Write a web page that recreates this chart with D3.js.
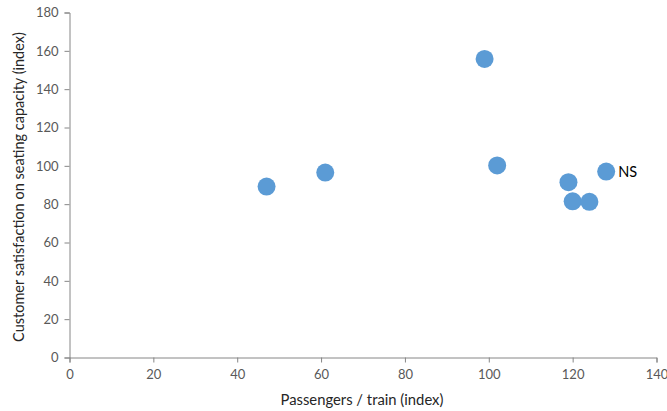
<!DOCTYPE html>
<html><head><meta charset="utf-8">
<script src="https://cdn.jsdelivr.net/npm/d3@7"></script>
<style>body{margin:0;background:#fff}svg{display:block}</style>
</head><body>
<svg id="c" width="667" height="411"></svg>
<script>
const xValues = [47, 61, 99, 102, 119, 120, 124, 128];
const yValues = [89.2, 96.5, 155.8, 100.2, 91.5, 81.5, 81.2, 97.0];
const pointLabels = ["", "", "", "", "", "", "", "NS"];
const xTicks = [0, 20, 40, 60, 80, 100, 120, 140];
const yTicks = [0, 20, 40, 60, 80, 100, 120, 140, 160, 180];
const xTitle = "Passengers / train (index)";
const yTitle = "Customer satisfaction on seating capacity (index)";

(function () {
const svg = d3.select("#c");
const font = "Lato, 'Open Sans', sans-serif";
const pLeft = 69.5, pRight = 656.5, pTop = 12.5, pBottom = 357.5;
const x = d3.scaleLinear().domain([0, 140]).range([pLeft, pRight]);
const y = d3.scaleLinear().domain([0, 180]).range([pBottom, pTop]);

const xa = svg.append("g").attr("transform", `translate(0,${pBottom})`)
  .call(d3.axisBottom(x).tickValues(xTicks).tickSizeOuter(0).tickSize(5).tickPadding(7));
const ya = svg.append("g").attr("transform", `translate(${pLeft},0)`)
  .call(d3.axisLeft(y).tickValues(yTicks).tickSizeOuter(0).tickSize(5).tickPadding(6));
[xa, ya].forEach(a => {
  a.selectAll("path,line").attr("stroke", "#868686").attr("stroke-width", 1);
  a.selectAll("text").attr("fill", "#595959").style("font-family", font).style("font-size", "13px");
});

svg.append("text").attr("x", (pLeft + pRight) / 2 - 1).attr("y", 405)
  .attr("text-anchor", "middle").attr("fill", "#262626").style("font-family", font).style("font-size", "14.8px")
  .text(xTitle);
svg.append("text").attr("transform", `translate(24,${(pTop + pBottom) / 2 + 2}) rotate(-90)`)
  .attr("text-anchor", "middle").attr("fill", "#262626").style("font-family", font).style("font-size", "14.5px")
  .text(yTitle);

const data = xValues.map((v, i) => ({x: v, y: yValues[i], label: pointLabels[i]}));
svg.append("g").selectAll("circle").data(data).join("circle")
  .attr("cx", d => x(d.x)).attr("cy", d => y(d.y)).attr("r", 9)
  .attr("fill", "#5B9BD5");
svg.append("g").selectAll("text").data(data.filter(d => d.label)).join("text")
  .attr("x", d => x(d.x) + 12).attr("y", d => y(d.y) + 5)
  .attr("fill", "#000").style("font-family", font).style("font-size", "14.5px")
  .text(d => d.label);
})();
</script>
</body></html>
